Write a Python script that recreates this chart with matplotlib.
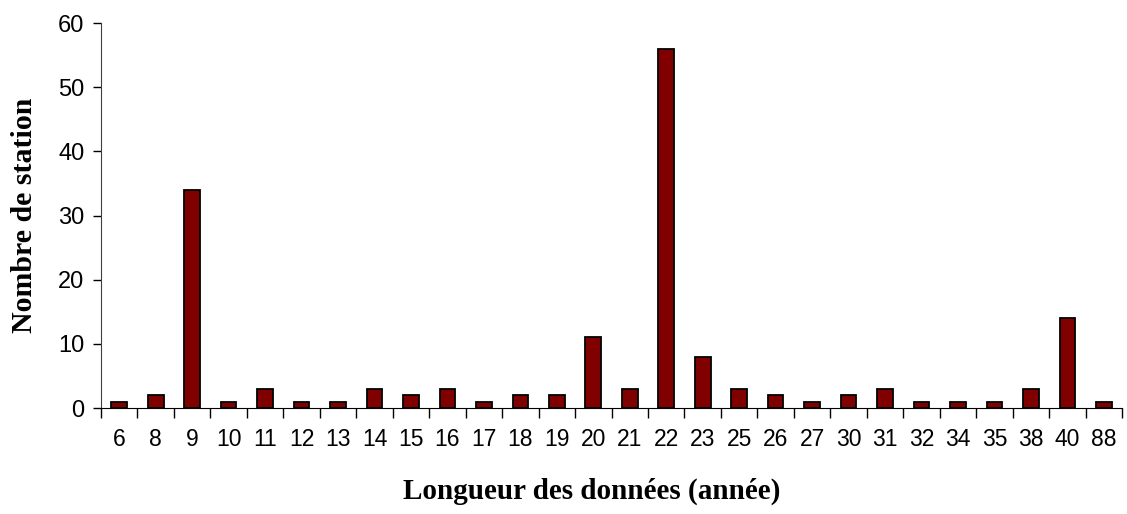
import numpy as np
import matplotlib.pyplot as plt

# longueur des series (annees) et nombre de stations
annees = ["6", "8", "9", "10", "11", "12", "13", "14", "15", "16", "17", "18", "19", "20",
          "21", "22", "23", "25", "26", "27", "30", "31", "32", "34", "35", "38", "40", "88"]
stations = [1, 2, 34, 1, 3, 1, 1, 3, 2, 3, 1, 2, 2, 11,
            3, 56, 8, 3, 2, 1, 2, 3, 1, 1, 1, 3, 14, 1]

fig = plt.figure(figsize=(11.27, 5.14), dpi=100)
ax = fig.add_axes([0.0896, 0.2062, 0.906, 0.749])

x = np.arange(len(annees))
ax.bar(x, stations, width=0.43, color="#800000", edgecolor="black", linewidth=1.3, zorder=3)

ax.set_xlim(-0.5, len(annees) - 0.5)
ax.set_ylim(0, 60)
ax.set_yticks(range(0, 61, 10))

# ticks between the categories, labels centred under each bar
ax.set_xticks(np.arange(-0.5, len(annees), 1.0))
ax.set_xticklabels([])
ax.set_xticks(x, minor=True)
ax.set_xticklabels(annees, minor=True, fontname="Liberation Sans", fontsize=16.5)
ax.tick_params(axis="x", which="major", direction="out", length=7, width=1)
ax.tick_params(axis="x", which="minor", length=0, pad=14.5)
ax.tick_params(axis="y", direction="out", length=5.5, width=1, labelsize=17, pad=6.5)
for lab in ax.get_yticklabels():
    lab.set_fontname("Liberation Sans")

for s in ["top", "right"]:
    ax.spines[s].set_visible(False)
ax.spines["left"].set_color("#404040")
ax.spines["bottom"].set_color("black")

ax.set_ylabel("Nombre de station", fontname="Liberation Serif", fontweight="bold", fontsize=21.5)
ax.yaxis.set_label_coords(-0.062, 0.5)
ax.set_xlabel("Longueur des données (année)", fontname="Liberation Serif", fontweight="bold", fontsize=21)
ax.xaxis.set_label_coords(0.481, -0.18)

fig.savefig("out.png", dpi=100)
